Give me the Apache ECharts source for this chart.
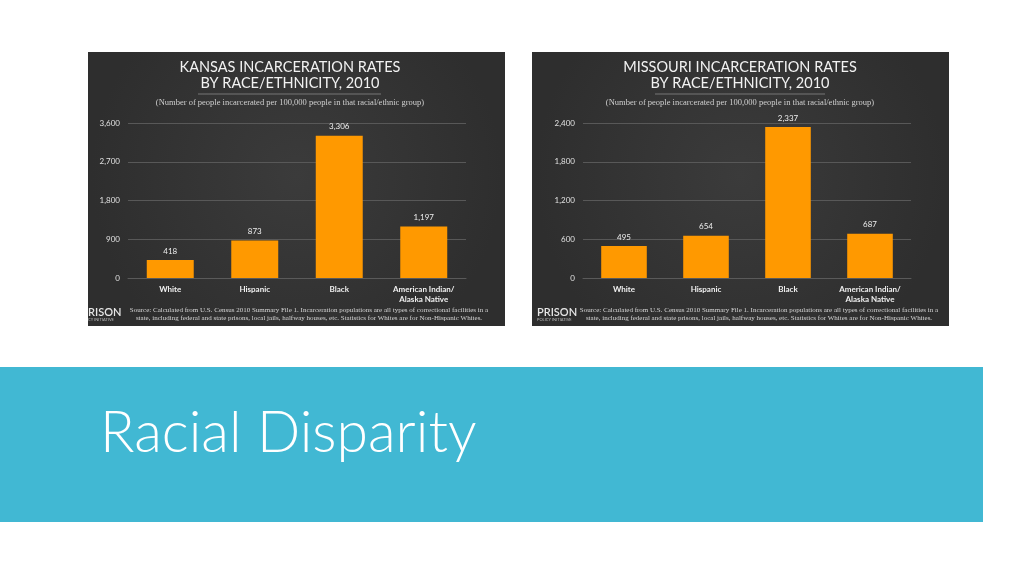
<!DOCTYPE html>
<html>
<head>
<meta charset="utf-8">
<script src="https://cdn.jsdelivr.net/npm/echarts@6/dist/echarts.min.js"></script>
<style>html,body{margin:0;padding:0;background:#fff}#c{width:1024px;height:576px}</style>
</head>
<body>
<div id="c"></div>
<script>
var categories = ['White', 'Hispanic', 'Black', 'American Indian/\nAlaska Native'];
var kansasRates = [418, 873, 3306, 1197];
var missouriRates = [495, 654, 2337, 687];
var kansasAxis = { max: 3600, interval: 900 };
var missouriAxis = { max: 2400, interval: 600 };
var kansasTitle = ['KANSAS INCARCERATION RATES', 'BY RACE/ETHNICITY, 2010'];
var missouriTitle = ['MISSOURI INCARCERATION RATES', 'BY RACE/ETHNICITY, 2010'];
var subtitleText = '(Number of people incarcerated per 100,000 people in that racial/ethnic group)';
var sourceText = 'Source: Calculated from U.S. Census 2010 Summary File 1. Incarceration populations are all types of correctional facilities in a\nstate, including federal and state prisons, local jails, halfway houses, etc. Statistics for Whites are for Non-Hispanic Whites.';
var slideTitle = 'Racial Disparity';

var chart = echarts.init(document.getElementById('c'), null, { renderer: 'canvas' });

function fmt(v) { return Number(v).toLocaleString('en-US'); }

var panelBg = {
  type: 'radial', x: 0.5, y: 0.45, r: 0.75,
  colorStops: [{ offset: 0, color: '#3b3b3b' }, { offset: 1, color: '#2e2e2e' }]
};

function panelTexts(cx, titleLines, ulX1, ulX2, srcX, logoX, logoText, logoSub) {
  return [
    { type: 'text', z: 5, style: { x: cx, y: 67, text: titleLines[0], fill: '#f2f2f2', font: '400 14.5px Lato', align: 'center', verticalAlign: 'middle' } },
    { type: 'text', z: 5, style: { x: cx, y: 83, text: titleLines[1], fill: '#f2f2f2', font: '400 14.5px Lato', align: 'center', verticalAlign: 'middle' } },
    { type: 'line', z: 5, shape: { x1: ulX1, y1: 94, x2: ulX2, y2: 94 }, style: { stroke: '#777', lineWidth: 1 } },
    { type: 'text', z: 5, style: { x: cx, y: 103, text: subtitleText, fill: '#cfcfcf', font: '8.5px "Liberation Serif"', align: 'center', verticalAlign: 'middle' } },
    { type: 'text', z: 5, style: { x: srcX, y: 314, text: sourceText, fill: '#d6d6d6', font: '7px "Liberation Serif"', align: 'center', verticalAlign: 'middle', lineHeight: 8 } },
    { type: 'text', z: 5, style: { x: logoX, y: 312, text: logoText, fill: '#e6e6e6', font: '600 11px Lato', align: 'left', verticalAlign: 'middle' } },
    { type: 'text', z: 5, style: { x: logoX, y: 320, text: logoSub, fill: '#bbbbbb', font: '4px Lato', align: 'left', verticalAlign: 'middle' } }
  ];
}

var graphics = [
  { type: 'rect', z: 0, shape: { x: 88, y: 52, width: 417, height: 274 }, style: { fill: panelBg } },
  { type: 'rect', z: 0, shape: { x: 532, y: 52, width: 417, height: 274 }, style: { fill: panelBg } },
  { type: 'rect', z: 0, shape: { x: 0, y: 367, width: 983, height: 155 }, style: { fill: '#41b8d3' } },
  { type: 'text', z: 5, style: { x: 100, y: 434, text: slideTitle, fill: '#ffffff', font: '300 57px Lato', align: 'left', verticalAlign: 'middle' } }
].concat(
  panelTexts(290, kansasTitle, 198, 381, 309, 88, 'RISON', 'CY INITIATIVE'),
  panelTexts(740, missouriTitle, 655, 825, 759, 537, 'PRISON', 'POLICY INITIATIVE')
);

function yAxis(gi, ax) {
  return {
    type: 'value', gridIndex: gi, min: 0, max: ax.max, interval: ax.interval,
    axisLine: { show: false }, axisTick: { show: false },
    axisLabel: { color: '#e0e0e0', fontSize: 8, fontFamily: 'Lato', margin: 8, formatter: fmt },
    splitLine: { lineStyle: { color: '#585858', width: 1 } }
  };
}
function xAxis(gi) {
  return {
    type: 'category', gridIndex: gi, data: categories,
    axisLine: { show: true, lineStyle: { color: '#5a5a5a' } }, axisTick: { show: false },
    axisLabel: { color: '#f0f0f0', fontSize: 8, fontFamily: 'Lato', fontWeight: 'bold', margin: 6, lineHeight: 10 }
  };
}
function bars(gi, data) {
  return {
    type: 'bar', xAxisIndex: gi, yAxisIndex: gi, data: data, barWidth: '55.6%',
    itemStyle: { color: '#ff9900' },
    label: { show: true, position: 'top', distance: 5, color: '#eeeeee', fontSize: 8, fontFamily: 'Lato', formatter: function (p) { return fmt(p.value); } }
  };
}

chart.setOption({
  animation: false,
  backgroundColor: '#ffffff',
  grid: [
    { left: 128, top: 123, width: 338, height: 155, containLabel: false },
    { left: 583, top: 123, width: 328, height: 155, containLabel: false }
  ],
  xAxis: [xAxis(0), xAxis(1)],
  yAxis: [yAxis(0, kansasAxis), yAxis(1, missouriAxis)],
  series: [bars(0, kansasRates), bars(1, missouriRates)],
  graphic: graphics
});
</script>
</body>
</html>
